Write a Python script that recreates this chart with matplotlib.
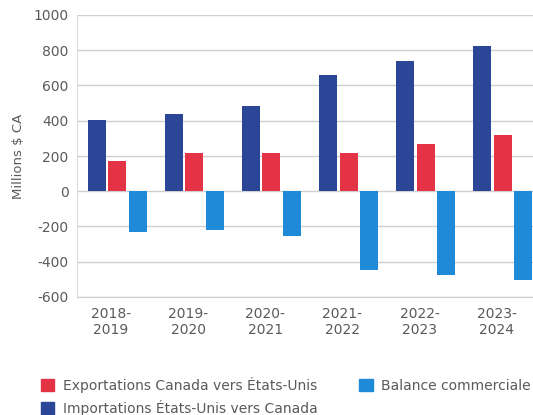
import numpy as np
import matplotlib.pyplot as plt
from matplotlib.patches import Patch

periods = ["2018-\n2019", "2019-\n2020", "2020-\n2021", "2021-\n2022", "2022-\n2023", "2023-\n2024"]
imports_us = [405, 437, 486, 658, 740, 822]
exports_ca = [171, 215, 215, 215, 266, 317]
balance = [-233, -220, -256, -444, -474, -504]

c_imp = "#2B4597"
c_exp = "#E53346"
c_bal = "#1E8AD8"
txt = "#5a5a5a"

plt.rcParams['axes.unicode_minus'] = False
plt.rcParams['font.family'] = ['DejaVu Sans']

fig = plt.figure(figsize=(5.33, 4.15), dpi=100)
ax = fig.add_axes([77 / 533, 1 - 297 / 415, 1 - 77 / 533, (297 - 15) / 415])

x = np.arange(len(periods))
w = 0.234
step = 0.266
ax.bar(x - step, imports_us, w, color=c_imp, zorder=3)
ax.bar(x, exports_ca, w, color=c_exp, zorder=3)
ax.bar(x + step, balance, w, color=c_bal, zorder=3)

ax.set_xlim(-0.52, 5.39)
ax.set_ylim(-600, 1000)
ax.set_yticks(range(-600, 1001, 200))
ax.set_xticks(x - 0.08)
ax.set_xticklabels(periods)
ax.tick_params(axis='both', length=0, labelsize=10, colors=txt)
ax.tick_params(axis='y', pad=6)
ax.tick_params(axis='x', pad=7)
ax.grid(axis='y', color='#cfcfcf', linewidth=1, zorder=0)
for s in ['top', 'right']:
    ax.spines[s].set_visible(False)
ax.spines['left'].set_color('#dddddd')
ax.spines['bottom'].set_color('#cfcfcf')

ax.set_ylabel("Millions $ CA", fontsize=9.5, color=txt)
ax.yaxis.set_label_coords(-0.114, 0.5)

handles = [Patch(color=c_exp), Patch(color=c_imp), Patch(color=c_bal)]
labels = ["Exportations Canada vers États-Unis",
          "Importations États-Unis vers Canada",
          "Balance commerciale"]
fig.legend(handles, labels, ncol=2, loc='upper left',
           bbox_to_anchor=(28 / 533, 1 - 364 / 415), frameon=False,
           fontsize=10, labelcolor=txt, handlelength=1.0, handleheight=1.0,
           handletextpad=0.6, columnspacing=3.0, labelspacing=0.55)

fig.savefig("out.png", dpi=100)
